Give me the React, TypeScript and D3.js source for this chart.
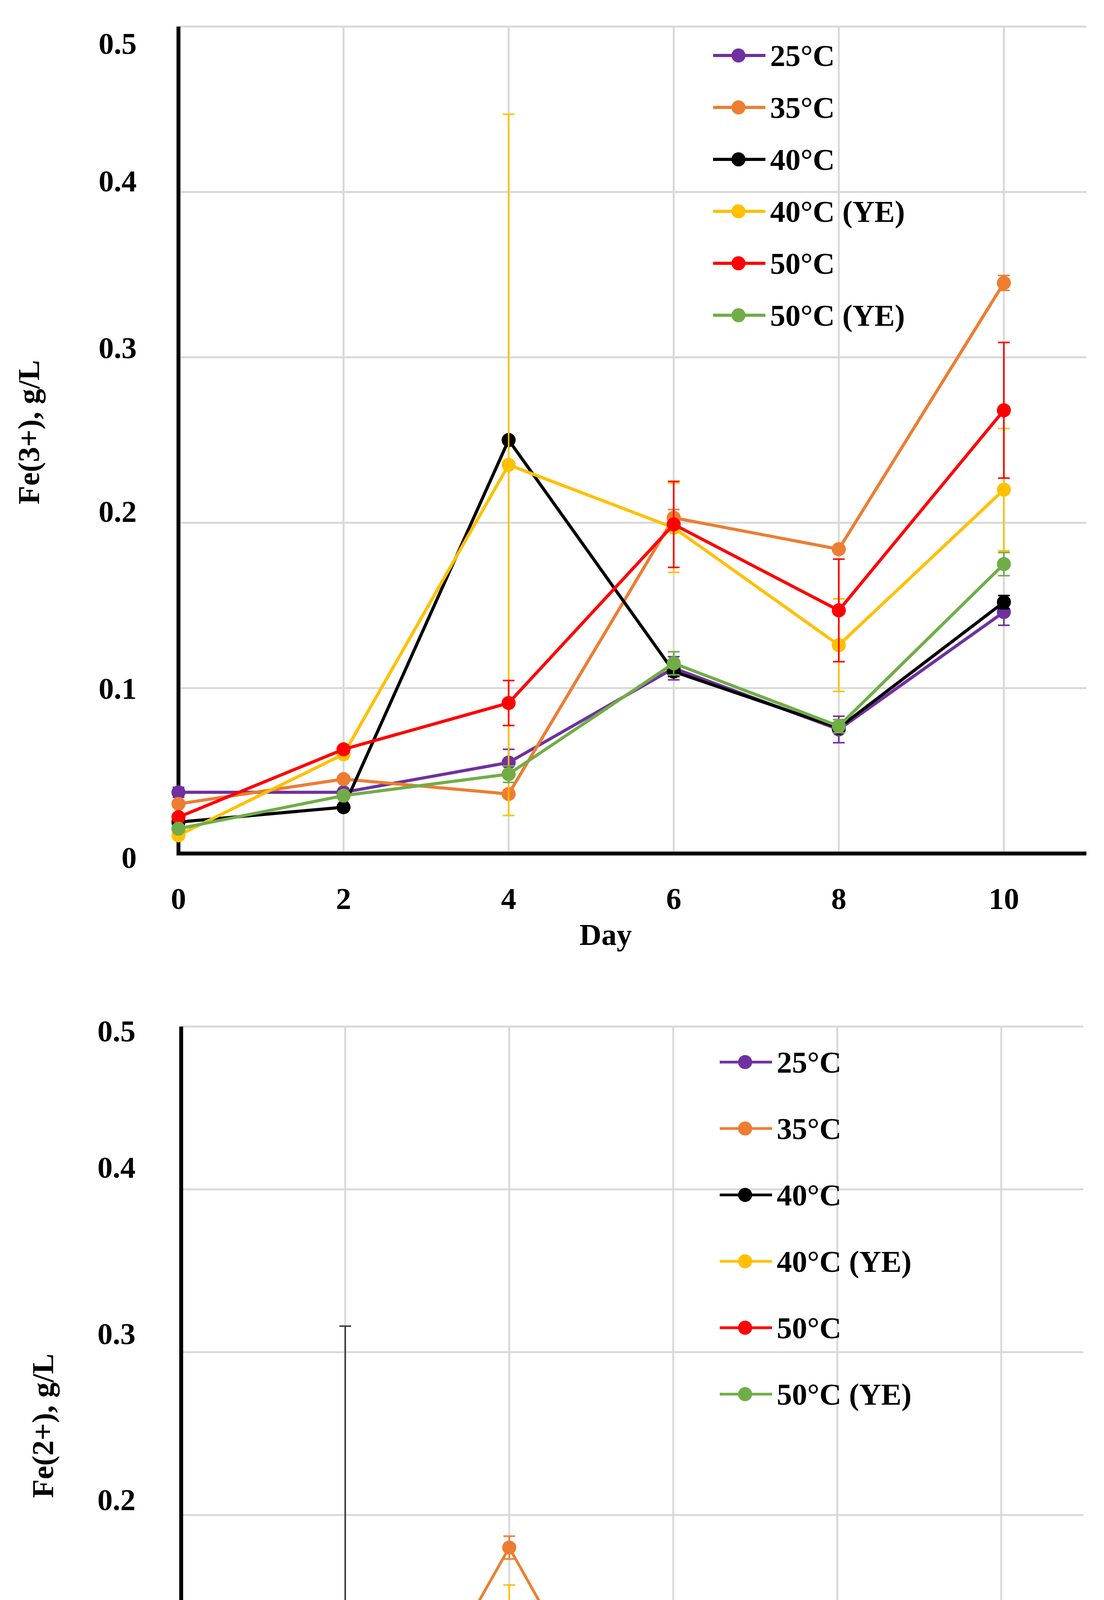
import { scaleLinear, line } from "d3";

const days = [0, 2, 4, 6, 8, 10];
const xTickLabels = ["0", "2", "4", "6", "8", "10"];
const yTicks = [0, 0.1, 0.2, 0.3, 0.4, 0.5];
const yTickLabels = ["0", "0.1", "0.2", "0.3", "0.4", "0.5"];

const seriesNames = ["25°C", "35°C", "40°C", "40°C (YE)", "50°C", "50°C (YE)"];
const seriesColors = ["#7030A0", "#ED7D31", "#000000", "#FFC000", "#FF0000", "#70AD47"];

// Fe(3+) g/L, one row per series
const fe3Values = [
  [0.037, 0.037, 0.055, 0.112, 0.075, 0.146],
  [0.03, 0.045, 0.036, 0.203, 0.184, 0.345],
  [0.019, 0.028, 0.25, 0.11, 0.076, 0.152],
  [0.011, 0.06, 0.235, 0.197, 0.126, 0.22],
  [0.022, 0.063, 0.091, 0.199, 0.147, 0.268],
  [0.015, 0.035, 0.048, 0.115, 0.077, 0.175],
];
const fe3Errors = [
  [0.003, 0, 0.008, 0.007, 0.008, 0.008],
  [0, 0, 0, 0.005, 0, 0.0045],
  [0, 0, 0, 0.003, 0, 0.004],
  [0, 0, 0.212, 0.027, 0.028, 0.037],
  [0, 0, 0.0136, 0.026, 0.031, 0.041],
  [0, 0, 0.005, 0.007, 0.004, 0.007],
];

// Fe(2+) g/L
const fe2Values = [
  [0, 0.002, 0.015, 0, 0, 0],
  [0.001, 0.002, 0.18, 0, 0, 0],
  [0.003, 0.132, 0.0425, 0, 0.0015, 0],
  [0.016, 0.002, 0.065, 0, 0.01, 0],
  [0, 0, 0, 0, 0, 0],
  [0.018, 0.002, 0.0375, 0, 0, 0],
];
const fe2Errors = [
  [0, 0, 0, 0, 0, 0],
  [0, 0.004, 0.007, 0, 0, 0],
  [0, 0.184, 0.039, 0, 0, 0],
  [0, 0, 0.092, 0, 0, 0],
  [0, 0, 0, 0, 0, 0],
  [0, 0, 0.048, 0, 0, 0],
];

const font = "'Palatino Linotype', 'Book Antiqua', Palatino, 'Liberation Serif', serif";
const fontSize = 78;

type PanelProps = {
  values: number[][];
  errors: number[][];
  yTitle: string;
  left: number;
  right: number;
  top: number;
  bottom: number;
  labelX: number;
  labelNudge: number[]; // the tick labels do not sit exactly on their gridlines
  titleX: number;
  legendX: number;
  legendY: number;
  legendStep: number;
  lineWidth: number;
  errColor?: string[];
};

const Panel = (p: PanelProps) => {
  const x = scaleLinear().domain([0, 11]).range([p.left, p.right]);
  const y = scaleLinear().domain([0, 0.5]).range([p.bottom, p.top]);
  const path = line<number>()
    .x((_, i) => x(days[i]))
    .y((d) => y(d));
  const cap = 15;

  return (
    <g fontFamily={font} fontWeight="bold" fontSize={fontSize}>
      {/* grid */}
      {yTicks.slice(1).map((t) => (
        <line key={"h" + t} x1={p.left} x2={p.right} y1={y(t)} y2={y(t)} stroke="#d9d9d9" strokeWidth={5} />
      ))}
      {days.slice(1).map((d) => (
        <line key={"v" + d} x1={x(d)} x2={x(d)} y1={p.top} y2={p.bottom} stroke="#d9d9d9" strokeWidth={5} />
      ))}
      {/* axes */}
      <line x1={p.left} x2={p.left} y1={p.top} y2={p.bottom} stroke="#000" strokeWidth={10} />
      <line x1={p.left - 5} x2={p.right} y1={p.bottom} y2={p.bottom} stroke="#000" strokeWidth={10} />

      {yTicks.map((t, i) => (
        <text key={"yl" + t} x={p.labelX} y={y(t) + p.labelNudge[i]} dy="0.35em" textAnchor="end">
          {yTickLabels[i]}
        </text>
      ))}
      {days.map((d, i) => (
        <text key={"xl" + d} x={x(d)} y={p.bottom + 115} dy="0.35em" textAnchor="middle">
          {xTickLabels[i]}
        </text>
      ))}
      <text x={(p.left + x(10)) / 2 + 37} y={p.bottom + 207} dy="0.35em" textAnchor="middle">
        Day
      </text>
      <text
        transform={`translate(${p.titleX},${(p.top + p.bottom) / 2 - 20}) rotate(-90)`}
        dy="0.35em"
        textAnchor="middle"
      >
        {p.yTitle}
      </text>

      {/* series */}
      {p.values.map((vals, s) => (
        <g key={"s" + s}>
          {vals.map((v, i) => {
            const e = p.errors[s][i];
            if (!e) return null;
            const hi = Math.min(v + e, 0.5);
            const lo = Math.max(v - e, 0);
            const cx = x(days[i]);
            const c = p.errColor ? p.errColor[s] : seriesColors[s];
            return (
              <g key={"e" + i} stroke={c} strokeWidth={4}>
                <line x1={cx} x2={cx} y1={y(hi)} y2={y(lo)} />
                <line x1={cx - cap} x2={cx + cap} y1={y(hi)} y2={y(hi)} />
                {v - e >= 0 && <line x1={cx - cap} x2={cx + cap} y1={y(lo)} y2={y(lo)} />}
              </g>
            );
          })}
          <path
            d={path(vals) || ""}
            fill="none"
            stroke={seriesColors[s]}
            strokeWidth={p.lineWidth}
            strokeLinejoin="round"
          />
          {vals.map((v, i) => (
            <circle key={"m" + i} cx={x(days[i])} cy={y(v)} r={18} fill={seriesColors[s]} />
          ))}
        </g>
      ))}

      {/* legend */}
      {seriesNames.map((name, s) => {
        const ly = p.legendY + s * p.legendStep;
        return (
          <g key={"lg" + s}>
            <line
              x1={p.legendX}
              x2={p.legendX + 134}
              y1={ly}
              y2={ly}
              stroke={seriesColors[s]}
              strokeWidth={p.lineWidth}
            />
            <circle cx={p.legendX + 65} cy={ly} r={18} fill={seriesColors[s]} />
            <text x={p.legendX + 146} y={ly} dy="0.35em">
              {name}
            </text>
          </g>
        );
      })}
    </g>
  );
};

export default function App() {
  return (
    <div style={{ margin: -8, background: "#fff" }}>
      <svg width={2827} height={5020} style={{ display: "block" }}>
        <rect width={2827} height={5020} fill="#fff" />
        <Panel
          values={fe3Values}
          errors={fe3Errors}
          yTitle="Fe(3+), g/L"
          left={457}
          right={2782}
          top={68}
          bottom={2185}
          labelX={350}
          labelNudge={[10, 0, -30, -25, -29, 43]}
          titleX={73}
          legendX={1826}
          legendY={142}
          legendStep={133}
          lineWidth={8}
        />
        <Panel
          values={fe2Values}
          errors={fe2Errors}
          yTitle="Fe(2+), g/L"
          left={464}
          right={2774}
          top={2628}
          bottom={4712}
          labelX={347}
          labelNudge={[-20, -30, -40, -48, -57, 11]}
          titleX={109}
          legendX={1843}
          legendY={2719}
          legendStep={170}
          lineWidth={7}
          errColor={["#7030A0", "#ED7D31", "#404040", "#FFC000", "#FF0000", "#70AD47"]}
        />
      </svg>
    </div>
  );
}
